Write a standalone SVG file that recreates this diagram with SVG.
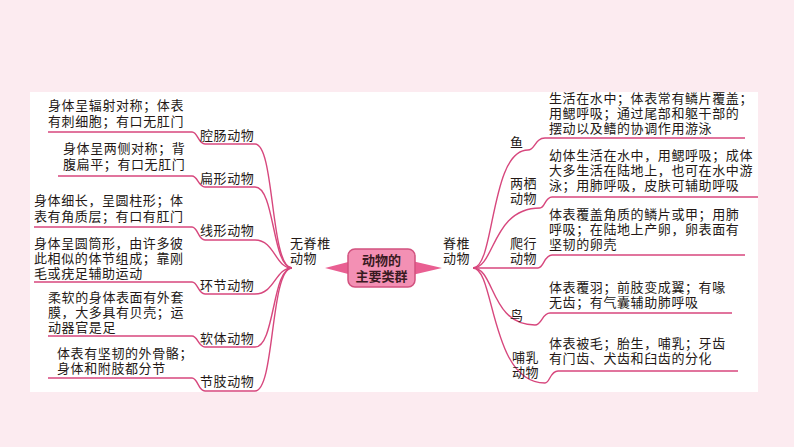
<svg xmlns="http://www.w3.org/2000/svg" width="794" height="447" viewBox="0 0 794 447">
<style>
.t{font-family:"Noto Sans CJK SC",sans-serif;font-size:13px;letter-spacing:0.6px;fill:#231815}
.c{fill:none;stroke:#d7477d;stroke-width:1.4}
.h{font-family:"Noto Sans CJK SC",sans-serif;font-size:13px;font-weight:bold;fill:#3a1a22}
</style>
<rect width="794" height="447" fill="#fcebf0"/>
<rect x="30" y="92" width="728" height="300" fill="#fff"/>
<g id="connectors">
<path class="c" d="M292,268 C270,268 275,144 255,144 H205 C198,144 198,132 192,132 H48"/>
<path class="c" d="M292,268 C272,268 275,187 255,187 H205 C198,187 198,176 192,176 H58"/>
<path class="c" d="M292,268 C275,268 275,240 255,240 H205 C198,240 198,227 192,227 H34"/>
<path class="c" d="M292,268 C275,268 275,294 255,294 H205 C198,294 198,282 192,282 H34"/>
<path class="c" d="M292,268 C272,268 275,347 255,347 H205 C198,347 198,336 192,336 H48"/>
<path class="c" d="M292,268 C270,268 275,391 255,391 H205 C198,391 198,378 192,378 H48"/>
<path class="c" d="M473,268 C495,268 490,150 528,150 C535,150 535,138 545,138 H745"/>
<path class="c" d="M473,268 C495,268 492,208 540,208 C545,208 545,197 552,197 H758"/>
<path class="c" d="M473,268 H538 C544,268 544,255 552,255 H745"/>
<path class="c" d="M473,268 C495,268 490,325 535,325 C542,325 542,313 550,313 H732"/>
<path class="c" d="M473,268 C495,268 490,383 545,383 C550,383 550,371 558,371 H738"/>
<path fill="#e95f92" d="M325,268 L352,261 L352,275 Z M442,268 L412,261 L412,275 Z"/>
</g>
<g id="center">
<rect x="348" y="249" width="67" height="38" rx="7" fill="#f390b4" stroke="#d2527f" stroke-width="1.5"/>
<text class="h" x="381.5" y="265" text-anchor="middle">动物的</text>
<text class="h" x="381.5" y="281" text-anchor="middle">主要类群</text>
</g>
<g id="invert"><text class="t" x="290" y="248">无脊椎</text><text class="t" x="290" y="263">动物</text></g>
<g id="vert"><text class="t" x="443" y="248">脊椎</text><text class="t" x="443" y="263">动物</text></g>
<g id="qiangchang"><text class="t" x="200" y="140">腔肠动物</text><text class="t" x="48" y="110">身体呈辐射对称；体表</text><text class="t" x="48" y="126">有刺细胞；有口无肛门</text></g>
<g id="bianxing"><text class="t" x="63" y="153">身体呈两侧对称；背</text><text class="t" x="63" y="169">腹扁平；有口无肛门</text><text class="t" x="200" y="183">扁形动物</text></g>
<g id="xianxing"><text class="t" x="200" y="235">线形动物</text><text class="t" x="34" y="205">身体细长，呈圆柱形；体</text><text class="t" x="34" y="221">表有角质层；有口有肛门</text></g>
<g id="huanjie"><text class="t" x="200" y="290">环节动物</text><text class="t" x="34" y="248">身体呈圆筒形，由许多彼</text><text class="t" x="34" y="263">此相似的体节组成；靠刚</text><text class="t" x="34" y="278">毛或疣足辅助运动</text></g>
<g id="ruanti"><text class="t" x="200" y="343">软体动物</text><text class="t" x="48" y="302">柔软的身体表面有外套</text><text class="t" x="48" y="317">膜，大多具有贝壳；运</text><text class="t" x="48" y="332">动器官是足</text></g>
<g id="jiezhi"><text class="t" x="200" y="386">节肢动物</text><text class="t" x="57" y="358">体表有坚韧的外骨骼；</text><text class="t" x="57" y="373">身体和附肢都分节</text></g>
<g id="yu"><text class="t" x="510" y="147">鱼</text><text class="t" x="549" y="103">生活在水中；体表常有鳞片覆盖；</text><text class="t" x="549" y="118">用鳃呼吸；通过尾部和躯干部的</text><text class="t" x="549" y="133">摆动以及鳍的协调作用游泳</text></g>
<g id="liangqi"><text class="t" x="510" y="188">两栖</text><text class="t" x="510" y="203">动物</text><text class="t" x="549" y="160">幼体生活在水中，用鳃呼吸；成体</text><text class="t" x="549" y="175">大多生活在陆地上，也可在水中游</text><text class="t" x="549" y="190">泳；用肺呼吸，皮肤可辅助呼吸</text></g>
<g id="paxing"><text class="t" x="510" y="248">爬行</text><text class="t" x="510" y="263">动物</text><text class="t" x="549" y="219">体表覆盖角质的鳞片或甲；用肺</text><text class="t" x="549" y="234">呼吸；在陆地上产卵，卵表面有</text><text class="t" x="549" y="249">坚韧的卵壳</text></g>
<g id="niao"><text class="t" x="510" y="320">鸟</text><text class="t" x="549" y="292">体表覆羽；前肢变成翼；有喙</text><text class="t" x="549" y="307">无齿；有气囊辅助肺呼吸</text></g>
<g id="buru"><text class="t" x="512" y="362">哺乳</text><text class="t" x="512" y="377">动物</text><text class="t" x="549" y="348">体表被毛；胎生，哺乳；牙齿</text><text class="t" x="549" y="363">有门齿、犬齿和臼齿的分化</text></g>
</svg>
